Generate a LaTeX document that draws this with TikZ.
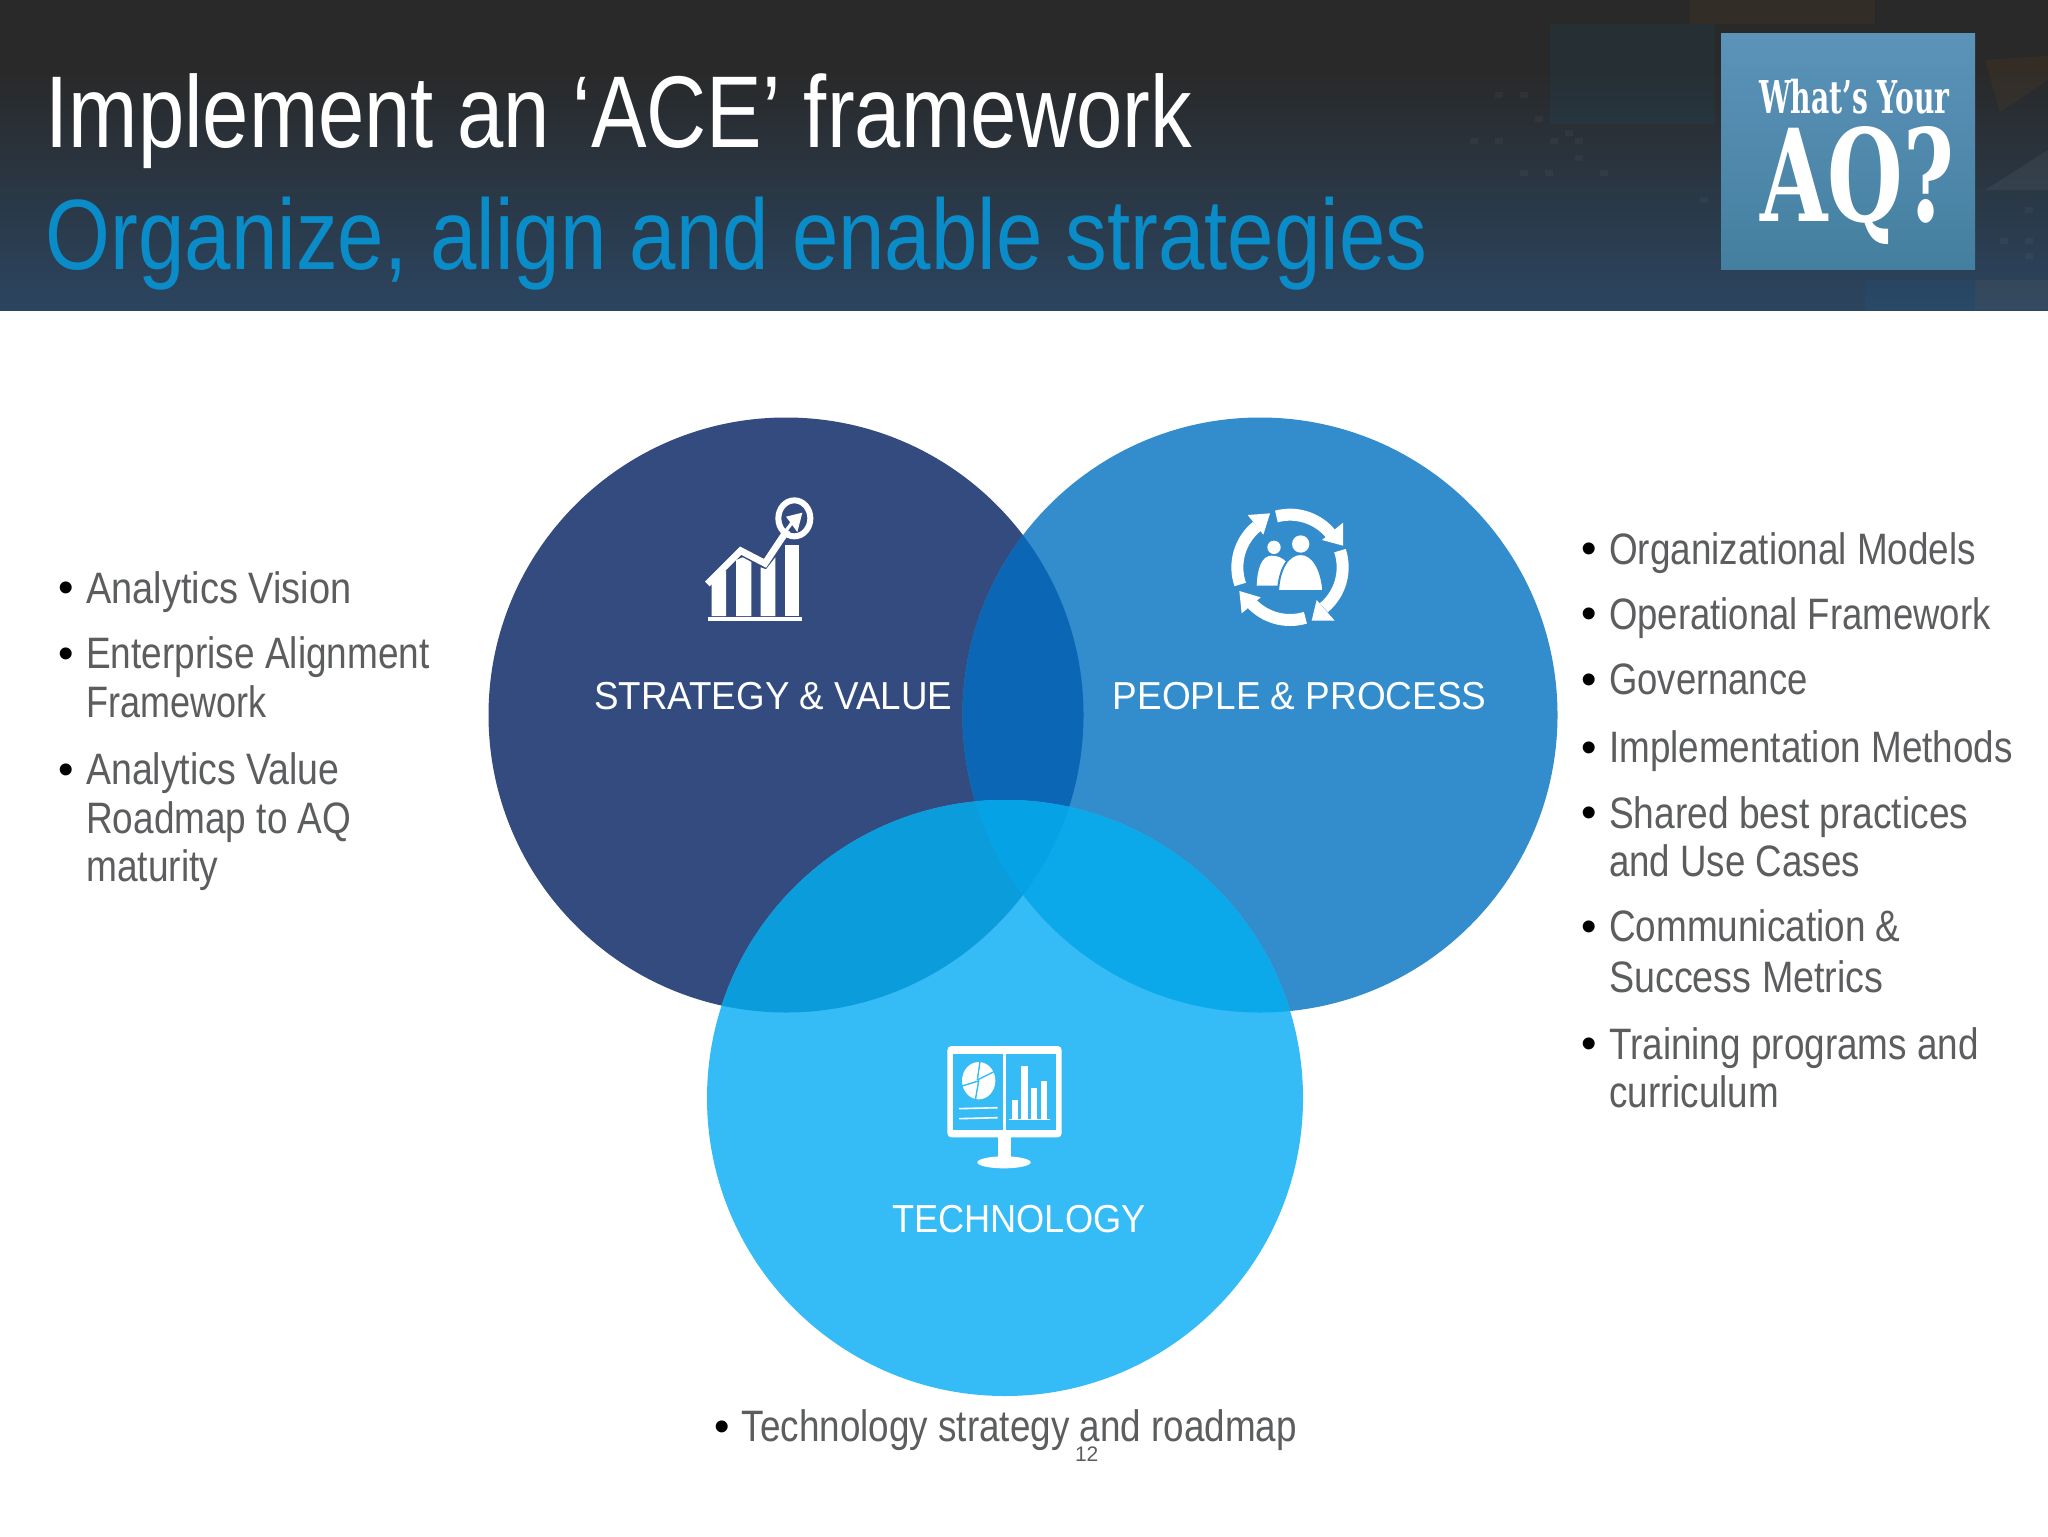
\documentclass[tikz,border=0pt]{standalone}
\usepackage{fontspec}
\usepackage{graphicx}
\setmainfont{Liberation Sans}
\newfontfamily\slabfont{DejaVu Serif}
\definecolor{cOne}{HTML}{344B80}
\definecolor{cTwo}{HTML}{338CCB}
\definecolor{cThree}{HTML}{35BBF5}
\definecolor{cOneTwo}{HTML}{0B66B5}
\definecolor{cOneThree}{HTML}{0B9CDC}
\definecolor{cTwoThree}{HTML}{0BA9EA}
\definecolor{cAll}{HTML}{05A3E5}
\definecolor{bodygray}{HTML}{5C5D5F}
\definecolor{subblue}{HTML}{0A8CC8}
\definecolor{headdark}{HTML}{292929}
\definecolor{headblue}{HTML}{2B4560}
\definecolor{tiletop}{HTML}{5B93B9}
\definecolor{tilebot}{HTML}{447F9F}
\newsavebox{\fitbox}
% fit text to a width given in reference-display units (1568 wide)
\newcommand{\fitw}[2]{\sbox{\fitbox}{#2}\pgfmathsetmacro{\fitr}{#1*0.653061*1pt/\wd\fitbox}\scalebox{\fitr}[1]{\usebox{\fitbox}}}
\newcommand{\lab}[6]{\node[#5,anchor=base west,inner sep=0pt,outer sep=0pt] (#1) at ({#2*1.30612},{#3*1.30612}) {\fitw{#4}{#6}};}
\newcommand{\bl}[5]{\node[bulletmark] (#1b) at ({(#2-21)*1.30612},{(#3-0.5)*1.30612}) {•};
  \lab{#1}{#2}{#3}{#4}{bodytext}{#5}}
\tikzset{
  bodytext/.style={text=bodygray,font=\fontsize{22}{26}\selectfont},
  bulletmark/.style={text=black,anchor=base west,inner sep=0pt,outer sep=0pt,font=\fontsize{22}{26}\selectfont},
  titletext/.style={text=white,font=\fontsize{51}{60}\selectfont},
  subtext/.style={text=subblue,font=\fontsize{50}{60}\selectfont},
  circlelabel/.style={text=white,font=\fontsize{19.5}{24}\selectfont},
  logotext/.style={text=white,anchor=base west,inner sep=0pt,outer sep=0pt},
  iconline/.style={draw=white,line cap=butt,line join=miter},
  patch/.style={draw=none,opacity=.05},
  speck/.style={fill=white,draw=none,opacity=.035},
}
\begin{document}
\begin{tikzpicture}[x=0.5pt,y=-0.5pt]
\useasboundingbox (0,0) rectangle (2048,1536);
\fill[white] (0,0) rectangle (2048,1536);
% header band
\fill[headdark] (0,0) rectangle (2048,70);
\shade[top color=headdark,bottom color=headblue] (0,70) rectangle (2048,310);
% faint background patches
\fill[patch,fill=orange!70!brown] (1690,0) rectangle (1875,24);
\fill[patch,fill=blue!30!cyan] (1550,24) rectangle (1715,124);
\fill[patch,fill=orange] (1985,60) -- (2048,56) -- (2048,80) -- (2000,112) -- cycle;
\fill[patch,fill=white] (1985,190) -- (2048,150) -- (2048,190) -- cycle;
\fill[patch,fill=orange!50] (1975,280) rectangle (2048,310);
\fill[patch,fill=blue!40!cyan] (1865,280) rectangle (1975,310);
\foreach \sx/\sy in {1495/92,1520/92,1535/116,1565/130,1470/138,1495/138,1550/138,1575/138,1575/155,1520/170,1545/170,1600/170,1700/197,2025/207,2025/238,2000/238,2025/253}
  \fill[speck] (\sx,\sy) rectangle +(8,6);
% logo tile
\shade[top color=tiletop,bottom color=tilebot] (1721,34) rectangle (1975,269);
% circles
\fill[cOne] (786,715) circle (297.5);
\fill[cTwo] (1260,715) circle (297.5);
\begin{scope}
  \clip (786,715) circle (297.5);
  \fill[cOneTwo] (1260,715) circle (297.5);
\end{scope}
\fill[cThree] (1005,1098) circle (298);
\begin{scope}
  \clip (1005,1098) circle (298);
  \fill[cOneThree] (786,715) circle (297.5);
  \fill[cTwoThree] (1260,715) circle (297.5);
  \clip (786,715) circle (297.5);
  \fill[cAll] (1260,715) circle (297.5);
\end{scope}
% title and bullets
\lab{title}{35}{112.6}{878}{titletext}{Implement an ‘ACE’ framework}
\lab{sub}{35}{206}{1058}{subtext}{Organize, align and enable strategies}
\bl{la}{66}{462}{203}{Analytics Vision}
\bl{lb}{66}{512}{263}{Enterprise Alignment}
\lab{lbb}{66}{549}{138}{bodytext}{Framework}
\bl{lc}{66}{601}{194}{Analytics Value}
\lab{lcb}{66}{638}{203}{bodytext}{Roadmap to AQ}
\lab{lcc}{66}{675}{101}{bodytext}{maturity}
\bl{ra}{1232}{432}{281}{Organizational Models}
\bl{rb}{1232}{482}{292}{Operational Framework}
\bl{rc}{1232}{532}{152}{Governance}
\bl{rd}{1232}{584}{309}{Implementation Methods}
\bl{re}{1232}{634}{275}{Shared best practices}
\lab{reb}{1232}{671}{192}{bodytext}{and Use Cases}
\bl{rf}{1232}{721}{223}{Communication \&}
\lab{rfb}{1232}{760}{210}{bodytext}{Success Metrics}
\bl{rg}{1232}{811}{283}{Training programs and}
\lab{rgb}{1232}{848}{130}{bodytext}{curriculum}
\bl{ba}{568}{1104}{425}{Technology strategy and roadmap}
\node[text=bodygray,font=\fontsize{10.5}{12}\selectfont,inner sep=0pt] (pageno) at ({832*1.30612},{1113*1.30612}) {12};
\lab{strat}{455}{543}{274}{circlelabel}{STRATEGY \& VALUE}
\lab{people}{852}{543}{286}{circlelabel}{PEOPLE \& PROCESS}
\lab{tech}{683}{944}{194}{circlelabel}{TECHNOLOGY}
% logo text
\node[logotext,font=\slabfont\bfseries\fontsize{22.6}{26}\selectfont] (logoa) at (1759,113) {\fitw{146}{What’s Your}};
\node[logotext,font=\slabfont\bfseries\fontsize{64}{70}\selectfont] (logob) at (1760,221) {\fitw{148.5}{AQ?}};
% chart icon
\begin{scope}[shift={(680,480)},x=0.16667pt,y=-0.16667pt]
  \fill[white] (95,290) -- (138,272) -- (138,408) -- (95,408) -- cycle;
  \fill[white] (168,240) -- (188,232) -- (214,246) -- (214,408) -- (168,408) -- cycle;
  \fill[white] (242,262) -- (258,268) -- (286,232) -- (286,408) -- (242,408) -- cycle;
  \fill[white] (316,195) -- (358,195) -- (358,408) -- (316,408) -- cycle;
  \fill[white] (85,410) rectangle (367,422);
  \draw[iconline,line width=3.4pt] (82,312) -- (182,212) -- (255,250) -- (322,150);
  \draw[iconline,line width=1.6pt] (318,152) -- (342,120);
  \draw[white,line width=3pt] (343,115) ellipse [x radius=48,y radius=54];
  \fill[white] (367,98) -- (318,110) -- (352,156) -- cycle;
\end{scope}
% people icon
\begin{scope}[shift={(1210,490)},x=0.16667pt,y=-0.16667pt]
  \def\cx{240}\def\cy{232}
  \draw[iconline,line width=6pt] (\cx,\cy) ++(-105:158) arc (-105:-36:158);
  \fill[white] (399,98) -- (399,167) -- (336,150) -- cycle;
  \draw[iconline,line width=6pt] (\cx,\cy) ++(-18.5:158) arc (-18.5:50:158);
  \fill[white] (374,392) -- (305,392) -- (320,330) -- cycle;
  \draw[iconline,line width=6pt] (\cx,\cy) ++(73:158) arc (73:138:158);
  \fill[white] (88,303) -- (152,322) -- (95,370) -- cycle;
  \draw[iconline,line width=6pt] (\cx,\cy) ++(161:158) arc (161:231:158);
  \fill[white] (113,75) -- (180,70) -- (160,134) -- cycle;
  \fill[white] (192,172) circle (20);
  \fill[white] (272,162) circle (26);
  \fill[white] (140,287) .. controls (142,235) and (155,197) .. (185,197) .. controls (205,197) and (218,205) .. (228,215) -- (228,287) -- cycle;
  \draw[fill=white,draw=cTwo,line width=1pt] (204,303) .. controls (208,235) and (235,192) .. (272,192) .. controls (310,192) and (335,240) .. (340,303) -- cycle;
\end{scope}
% monitor icon
\begin{scope}[shift={(930,1030)},x=0.16667pt,y=-0.16667pt]
  \fill[white,rounded corners=2pt] (52,48) rectangle (395,322);
  \fill[cThree] (70,72) rectangle (218,300);
  \fill[cThree] (228,72) rectangle (378,300);
  \fill[white] (205,320) rectangle (242,385);
  \fill[white] (222,397) ellipse [x radius=80,y radius=18];
  \fill[white] (146,152) ellipse [x radius=50,y radius=56];
  \draw[cThree,line width=.7pt] (142,150) -- (150,94);
  \draw[cThree,line width=.7pt] (142,150) -- (192,125);
  \draw[cThree,line width=.7pt] (148,152) -- (96,168);
  \draw[cThree,line width=.7pt] (146,152) -- (136,210);
  \draw[white,line width=.8pt] (87,236) -- (203,233);
  \draw[white,line width=.8pt] (87,266) -- (203,263);
  \fill[white] (245,210) rectangle (263,267);
  \fill[white] (274,108) rectangle (293,267);
  \fill[white] (303,175) rectangle (321,267);
  \fill[white] (333,152) rectangle (351,267);
  \draw[white,line width=.8pt] (238,268) -- (360,268);
\end{scope}
\end{tikzpicture}
\end{document}
